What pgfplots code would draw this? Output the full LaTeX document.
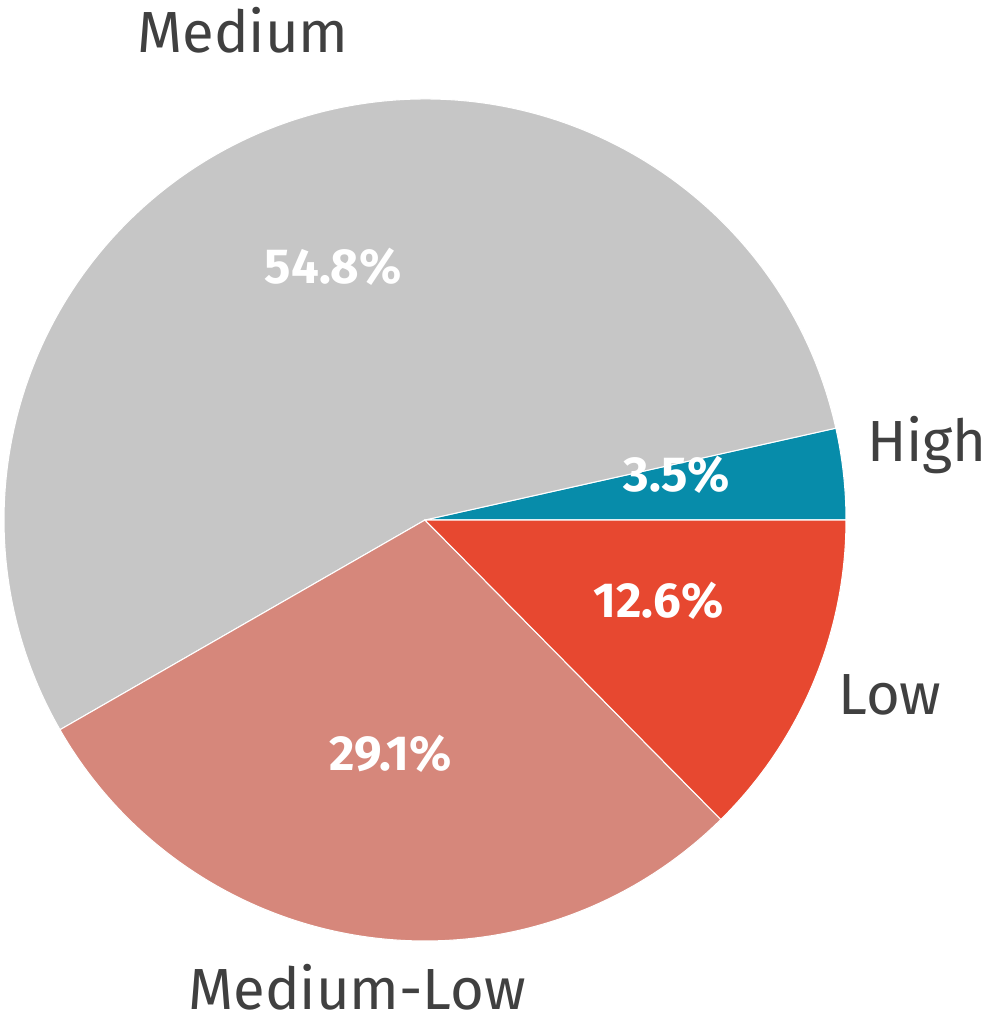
\documentclass[border=0pt]{standalone}
\usepackage{pgfplots}
\pgfplotsset{compat=1.18}
\usepackage{pgfplotstable}
\usepackage{fontspec}
\setmainfont{Fira Sans}

\definecolor{col0}{RGB}{7,140,170}
\definecolor{col1}{RGB}{198,198,198}
\definecolor{col2}{RGB}{214,135,123}
\definecolor{col3}{RGB}{231,72,48}
\definecolor{txt}{RGB}{64,64,64}

% share in percent, outer label position (px grid)
\pgfplotstableread{
label       value  lx   ly
High        3.5    927  576
Medium      54.8   243  991
Medium-Low  29.1   357  34
Low         12.6   890  326
}\piedata

\begin{document}
\begin{tikzpicture}
\begin{axis}[
    name=ax,
    width=9.87cm, height=10.21cm,
    scale only axis,
    xmin=0, xmax=987, ymin=0, ymax=1021,
    hide axis,
    clip=false,
]
% slices
\gdef\cum{0}
\pgfplotsinvokeforeach{0,...,3}{
    \pgfplotstablegetelem{#1}{value}\of\piedata
    \let\val\pgfplotsretval
    \pgfmathsetmacro\a{\cum*3.6}
    \pgfmathsetmacro\b{(\cum+\val)*3.6}
    \edef\temp{%
      \noexpand\fill[fill=col#1, draw=white, line width=0.3pt]
        (axis cs:425,501) -- ++(\a:4.21cm)
        arc[start angle=\a, end angle=\b, radius=4.21cm] -- cycle;
    }
    \temp
    \pgfmathsetmacro\newcum{\cum+\val}
    \xdef\cum{\newcum}
}
% labels on top
\gdef\cum{0}
\pgfplotsinvokeforeach{0,...,3}{
    \pgfplotstablegetelem{#1}{value}\of\piedata
    \let\val\pgfplotsretval
    \pgfplotstablegetelem{#1}{label}\of\piedata
    \let\lab\pgfplotsretval
    \pgfplotstablegetelem{#1}{lx}\of\piedata
    \let\lx\pgfplotsretval
    \pgfplotstablegetelem{#1}{ly}\of\piedata
    \let\ly\pgfplotsretval
    \pgfmathsetmacro\m{(\cum+\val/2)*3.6}
    \edef\temp{%
      \noexpand\path (axis cs:425,501) ++(\m:2.53cm)
        node[yshift=0.17cm, text=white, font=\noexpand\fontsize{14pt}{16pt}\noexpand\selectfont\noexpand\bfseries]
        {\val\noexpand\%};
      \noexpand\node[text=txt, inner sep=0pt, font=\noexpand\fontsize{16.5pt}{19pt}\noexpand\selectfont]
        at (axis cs:\lx,\ly) {\lab};
    }
    \temp
    \pgfmathsetmacro\newcum{\cum+\val}
    \xdef\cum{\newcum}
}
\end{axis}
\pgfresetboundingbox
\path (ax.south west) rectangle (ax.north east);
\end{tikzpicture}
\end{document}
